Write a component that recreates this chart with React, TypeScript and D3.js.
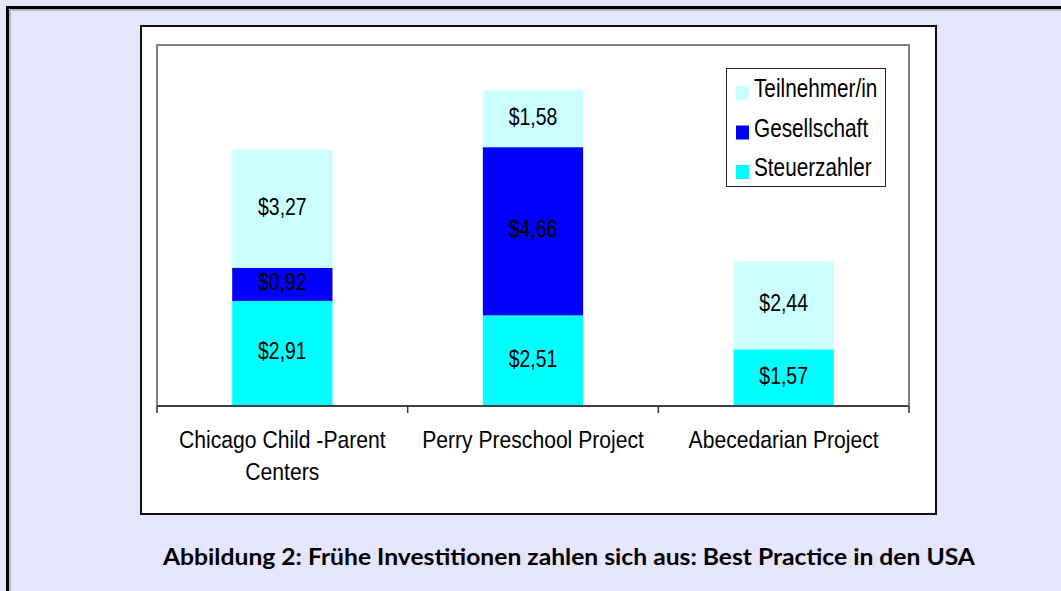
import React from "react";
import * as d3 from "d3";

const categories = ["Chicago Child -Parent Centers", "Perry Preschool Project", "Abecedarian Project"];
const categoryLines = [["Chicago Child -Parent", "Centers"], ["Perry Preschool Project"], ["Abecedarian Project"]];
const seriesNames = ["Steuerzahler", "Gesellschaft", "Teilnehmer/in"];
const steuerzahler = [2.91, 2.51, 1.57];
const gesellschaft = [0.92, 4.66, 0];
const teilnehmer = [3.27, 1.58, 2.44];
const seriesColors = ["#00FFFF", "#0000FF", "#CCFFFF"];
const legendOrder = ["Teilnehmer/in", "Gesellschaft", "Steuerzahler"];
const caption = "Abbildung 2: Frühe Investitionen zahlen sich aus: Best Practice in den USA";

const fmt = (v: number) => "$" + v.toFixed(2).replace(".", ",");

export default function App() {
  const W = 1061, H = 591;
  const plot = { x0: 157, x1: 909, y0: 45, y1: 406 };
  const x = d3.scaleBand<string>().domain(categories).range([plot.x0, plot.x1]).paddingInner(0.6).paddingOuter(0.3);
  const y = d3.scaleLinear().domain([0, 10]).range([plot.y1, plot.y0]);
  const table = categories.map((c, i) => ({
    cat: c,
    "Steuerzahler": steuerzahler[i],
    "Gesellschaft": gesellschaft[i],
    "Teilnehmer/in": teilnehmer[i],
  }));
  const stack = d3.stack<any>().keys(seriesNames)(table);
  const step = x.step();
  const boundaries = d3.range(categories.length + 1).map((i) => plot.x0 + i * step);
  const font = "'Liberation Sans', Arial, sans-serif";

  return (
    <svg width={W} height={H} style={{ position: "absolute", left: 0, top: 0, display: "block" }}>
      <rect x={0} y={0} width={W} height={H} fill="#E5E5FB" />
      <rect x={7.5} y={7.5} width={W + 20} height={H + 20} fill="none" stroke="#000" strokeWidth={3} />
      <rect x={10} y={10} width={W + 20} height={H + 20} fill="none" stroke="#8a8a9a" strokeWidth={1} />
      {/* chart area */}
      <rect x={141} y={26} width={795} height={488} fill="#fff" stroke="#111" strokeWidth={2} />
      {/* plot area border */}
      <path d={`M${plot.x0},${plot.y1} V${plot.y0} H${plot.x1} V${plot.y1}`} fill="none" stroke="#808080" strokeWidth={2} />
      {/* bars */}
      {stack.map((layer, si) => (
        <g key={seriesNames[si]}>
          {layer.map((d, i) => {
            const v = d[1] - d[0];
            if (v <= 0) return null;
            const top = y(d[1]), bot = y(d[0]);
            const cx = (x(categories[i]) as number) + x.bandwidth() / 2;
            return (
              <g key={i}>
                <rect x={x(categories[i])} y={top} width={x.bandwidth()} height={bot - top} fill={seriesColors[si]} />
                <text transform={`translate(${cx},${(top + bot) / 2 + 6}) scale(0.81,1)`} textAnchor="middle" fontFamily={font} fontSize={24} fill="#000">
                  {fmt(v)}
                </text>
              </g>
            );
          })}
        </g>
      ))}
      {/* axis */}
      <line x1={plot.x0} x2={plot.x1} y1={plot.y1} y2={plot.y1} stroke="#404040" strokeWidth={2} />
      {boundaries.map((bx, i) => (
        <line key={i} x1={bx} x2={bx} y1={plot.y1} y2={plot.y1 + 7} stroke="#333" strokeWidth={1.5} />
      ))}
      {categories.map((c, i) => {
        const cx = (x(c) as number) + x.bandwidth() / 2;
        return categoryLines[i].map((line, li) => (
          <text key={c + li} transform={`translate(${cx},${448 + li * 32}) scale(0.88,1)`} textAnchor="middle" fontFamily={font} fontSize={24} fill="#000">
            {line}
          </text>
        ));
      })}
      {/* legend */}
      <rect x={726.5} y={68.5} width={159} height={118} fill="#fff" stroke="#222" strokeWidth={1} />
      {legendOrder.map((name, i) => {
        const cy = 93 + i * 39.5;
        const si = seriesNames.indexOf(name);
        return (
          <g key={name}>
            <rect x={736} y={cy - 7} width={13} height={14} fill={seriesColors[si]} />
            <text transform={`translate(754,${cy + 4}) scale(0.83,1)`} fontFamily={font} fontSize={25} fill="#000">
              {name}
            </text>
          </g>
        );
      })}
      {/* caption */}
      <text x={569} y={565} textAnchor="middle" fontFamily="Lato, 'Open Sans', sans-serif" fontWeight="bold" fontSize={23} textLength={812} lengthAdjust="spacingAndGlyphs" fill="#000">
        {caption}
      </text>
    </svg>
  );
}
